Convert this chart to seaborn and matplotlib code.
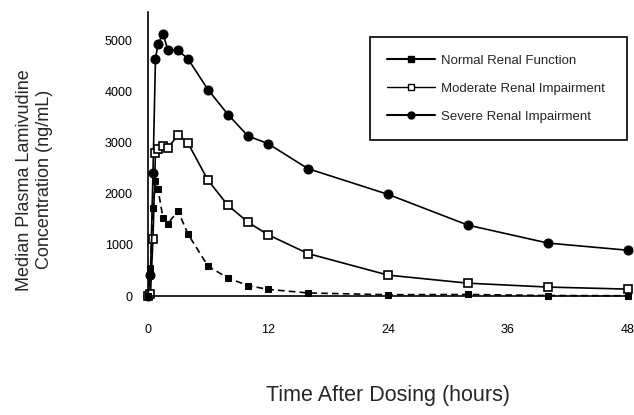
import pandas as pd
import matplotlib.pyplot as plt
import seaborn as sns
from matplotlib.lines import Line2D

# Sampling times (hours)
hours = [0, 0.25, 0.5, 0.75, 1, 1.5, 2, 3, 4, 6, 8, 10, 12, 16, 24, 32, 40, 48]

# Median plasma lamivudine concentration (ng/mL)
normal = [0, 556, 1714, 2240, 2088, 1532, 1415, 1667, 1211, 585, 351, 205, 130, 60, 25, 30, 10, 5]
moderate = [0, 40, 1120, 2790, 2865, 2930, 2895, 3150, 2990, 2263, 1772, 1444, 1199, 830, 409, 251, 175, 135]
severe = [0, 409, 2410, 4640, 4930, 5128, 4807, 4807, 4637, 4035, 3549, 3128, 2980, 2490, 1988, 1386, 1035, 895]

x_ticks = [0, 12, 24, 36, 48]
y_ticks = [0, 1000, 2000, 3000, 4000, 5000]

df = pd.DataFrame({'hours': hours, 'normal': normal,
                   'moderate': moderate, 'severe': severe})

sns.set_style('white')
plt.rcParams['font.family'] = ['Liberation Sans', 'DejaVu Sans']

fig = plt.figure(figsize=(6.34, 4.15), dpi=100)
ax = fig.add_axes([0.2334, 0.2867, 0.7571, 0.684])

sns.lineplot(data=df, x='hours', y='severe', ax=ax, color='black', lw=1.2,
             marker='o', markersize=6.5, markeredgecolor='black', clip_on=False)
sns.lineplot(data=df, x='hours', y='moderate', ax=ax, color='black', lw=1.2,
             marker='s', markersize=6, markerfacecolor='white',
             markeredgecolor='black', markeredgewidth=1.2, clip_on=False)
sns.lineplot(data=df, x='hours', y='normal', ax=ax, color='black', lw=1.2,
             linestyle=(0, (4, 2.5)), marker='s', markersize=4,
             markeredgecolor='black', clip_on=False)

ax.set_xlim(0, 48)
ax.set_ylim(0, 5550)
ax.set_xticks(x_ticks)
ax.set_yticks(y_ticks)
ax.tick_params(direction='inout', length=8, width=1, colors='black',
               labelsize=9)
ax.tick_params(axis='x', pad=16)
ax.tick_params(axis='y', pad=7)
sns.despine(ax=ax)
for side in ['left', 'bottom']:
    ax.spines[side].set_color('black')
    ax.spines[side].set_linewidth(1.2)

ax.set_xlabel('Time After Dosing (hours)', fontsize=15.5)
ax.set_ylabel('Median Plasma Lamivudine\nConcentration (ng/mL)', fontsize=13)
ax.xaxis.set_label_coords(0.5, -0.315)
ax.yaxis.set_label_coords(-0.198, 0.41)

handles = [
    Line2D([], [], color='black', lw=1.5, marker='s', markersize=5),
    Line2D([], [], color='black', lw=1.0, marker='s', markersize=5,
           markerfacecolor='white', markeredgewidth=1.0),
    Line2D([], [], color='black', lw=1.5, marker='o', markersize=5),
]
labels = ['Normal Renal Function', 'Moderate Renal Impairment',
          'Severe Renal Impairment']
leg = ax.legend(handles, labels, loc='upper left',
                bbox_to_anchor=(0.4625, 0.912, 0.5355, 0.0), mode='expand',
                fontsize=9.5, frameon=True, fancybox=False, framealpha=1,
                edgecolor='black', borderpad=1.3, labelspacing=1.2,
                handlelength=3.6, handletextpad=0.5, borderaxespad=0)
leg.get_frame().set_linewidth(1.2)

plt.savefig('out.png', dpi=100)
